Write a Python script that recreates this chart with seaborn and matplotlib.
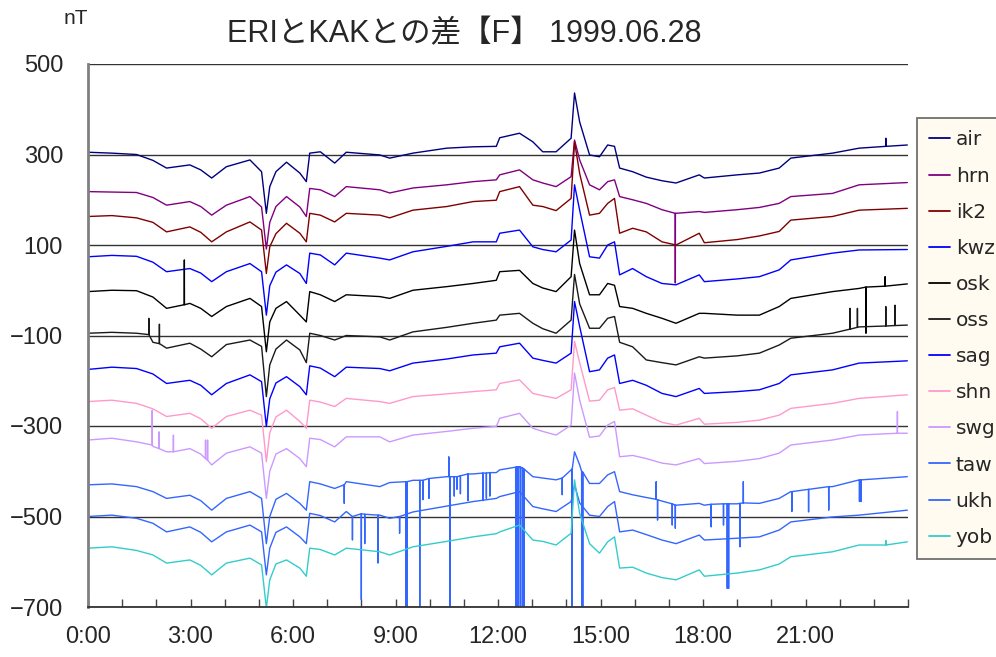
import matplotlib
matplotlib.use("Agg")
import matplotlib.pyplot as plt
from matplotlib.lines import Line2D
from matplotlib import font_manager
import pandas as pd
import seaborn as sns

# ---------------- data ----------------
HOURS = [0.0, 0.7, 1.42, 1.9, 2.3, 2.98, 3.3, 3.62, 4.05, 4.74, 5.08, 5.22, 5.32, 5.5,
         5.81, 6.2, 6.39, 6.49, 6.8, 7.22, 7.56, 8.54, 8.83, 9.51, 10.5, 11.27, 11.95,
         12.05, 12.63, 13.02, 13.31, 13.7, 14.14, 14.24, 14.39, 14.68, 14.97, 15.21,
         15.41, 15.56, 15.94, 16.34, 16.8, 17.21, 17.89, 18.04, 19.0, 19.65, 20.23,
         20.57, 21.79, 22.57, 23.98]

STATIONS = ["air", "hrn", "ik2", "kwz", "osk", "oss", "sag", "shn", "swg", "taw", "ukh", "yob"]
COLORS = ["#000080", "#800080", "#800000", "#0000FF", "#000000", "#1a1a1a",
          "#0000FF", "#FF99CC", "#CC99FF", "#3366FF", "#3366FF", "#33CCCC"]

air = [305, 303, 300, 287, 270, 277, 266, 248, 273, 288, 262, 170, 229, 262, 283, 259, 240,
       303, 306, 281, 305, 299, 292, 303, 314, 317, 318, 337, 347, 328, 306, 306, 336, 436,
       372, 299, 295, 321, 318, 270, 262, 250, 242, 237, 255, 248, 255, 259, 270, 292, 303,
       314, 321]
hrn = [218, 217, 216, 205, 188, 196, 185, 166, 188, 207, 184, 91, 150, 185, 207, 184, 163,
       225, 222, 207, 229, 222, 215, 226, 233, 240, 244, 255, 266, 244, 237, 229, 251, 332,
       288, 233, 222, 240, 244, 207, 200, 192, 178, 170, 174, 172, 178, 183, 192, 207, 214,
       233, 238]
ik2 = [163, 165, 160, 150, 129, 140, 128, 107, 129, 151, 133, 37, 96, 125, 148, 126, 107,
       170, 166, 151, 170, 166, 160, 177, 185, 196, 199, 218, 229, 188, 185, 176, 203, 328,
       258, 166, 170, 192, 203, 126, 137, 129, 107, 100, 126, 105, 112, 120, 130, 155, 163,
       177, 181]
kwz = [74, 77, 75, 62, 41, 48, 38, 19, 41, 59, 41, -55, 10, 40, 56, 37, 15, 82, 78, 56, 82,
       71, 67, 85, 97, 107, 107, 126, 133, 96, 90, 85, 111, 233, 177, 74, 71, 100, 107, 34,
       48, 30, 15, 12, 34, 19, 25, 30, 45, 67, 82, 89, 90]
osk = [-3, 0, -1, -15, -40, -29, -40, -58, -36, -18, -36, -136, -70, -40, -25, -55, -70, -3,
       -10, -25, -10, -14, -18, 0, 8, 15, 22, 41, 44, 15, 5, -3, 30, 133, 59, -10, -10, 15,
       11, -36, -40, -51, -62, -73, -51, -51, -55, -55, -36, -18, -3, 4, 14]
oss = [-95, -93, -95, -115, -128, -117, -130, -147, -120, -110, -124, -235, -165, -130, -110,
       -132, -160, -95, -100, -110, -100, -103, -110, -92, -82, -73, -66, -55, -51, -73, -85,
       -95, -66, 35, -30, -84, -84, -62, -58, -115, -125, -154, -160, -165, -147, -150, -145,
       -139, -121, -106, -95, -81, -77]
sag = [-175, -170, -173, -185, -206, -199, -210, -231, -206, -187, -202, -301, -240, -205,
       -191, -213, -231, -167, -172, -191, -170, -173, -178, -161, -152, -143, -139, -125,
       -117, -150, -155, -161, -139, -25, -80, -180, -176, -150, -143, -206, -199, -210, -228,
       -235, -217, -228, -224, -220, -206, -187, -176, -161, -156]
shn = [-246, -243, -250, -262, -279, -272, -284, -305, -279, -265, -276, -379, -315, -280,
       -265, -290, -305, -243, -247, -257, -239, -246, -250, -235, -229, -224, -220, -206,
       -198, -228, -233, -239, -220, -113, -160, -245, -243, -220, -215, -265, -262, -276,
       -292, -298, -283, -296, -292, -287, -276, -261, -250, -239, -231]
swg = [-331, -327, -335, -345, -357, -350, -362, -386, -360, -346, -360, -460, -400, -362,
       -350, -372, -390, -327, -330, -346, -324, -324, -335, -320, -312, -305, -301, -283,
       -272, -305, -312, -320, -298, -183, -243, -325, -322, -298, -290, -368, -365, -372,
       -382, -386, -372, -383, -378, -372, -360, -342, -331, -320, -316]
taw = [-430, -428, -434, -445, -460, -453, -465, -486, -460, -445, -460, -560, -500, -462,
       -449, -471, -486, -423, -428, -438, -423, -434, -425, -420, -412, -406, -403, -397,
       -390, -412, -415, -419, -397, -357, -386, -427, -427, -408, -401, -445, -452, -458,
       -466, -475, -471, -475, -472, -471, -460, -445, -434, -419, -412]
ukh = [-500, -497, -504, -515, -534, -523, -535, -556, -534, -519, -534, -629, -570, -535,
       -523, -545, -560, -493, -498, -512, -489, -497, -504, -490, -477, -467, -460, -456,
       -445, -478, -483, -489, -467, -430, -470, -497, -500, -478, -467, -534, -530, -540,
       -552, -560, -541, -552, -548, -545, -530, -512, -501, -497, -486]
yob = [-570, -567, -575, -585, -603, -596, -608, -629, -603, -592, -607, -702, -640, -605,
       -596, -614, -632, -570, -573, -585, -570, -578, -585, -567, -555, -545, -538, -534,
       -519, -552, -555, -563, -537, -419, -493, -560, -581, -556, -545, -614, -612, -625,
       -635, -640, -618, -632, -625, -618, -605, -589, -578, -563, -556]

# one-minute spikes: (hour, level of the trace, tip of the spike)
air_spikes = [(23.35, 318, 336)]
hrn_spikes = [(17.19, 170, 16)]
ik2_spikes = []
kwz_spikes = []
osk_spikes = [(2.82, -32, 67), (22.77, 7, -95), (23.33, 9, 30)]
oss_spikes = [(1.78, -98, -62), (2.09, -118, -75), (22.30, -86, -40), (22.52, -82, -40),
              (23.35, -79, -36), (23.62, -78, -33)]
sag_spikes = []
shn_spikes = []
swg_spikes = [(1.88, -342, -265), (2.08, -350, -313), (2.50, -357, -320), (3.44, -372, -331),
              (3.50, -376, -331), (23.69, -316, -268)]
taw_spikes = [(7.50, -430, -471), (9.31, -423, -700), (9.34, -423, -700), (9.71, -420, -700),
              (9.80, -420, -463), (9.98, -416, -460), (10.56, -412, -368), (10.59, -412, -700),
              (10.72, -412, -455), (10.80, -412, -440), (10.90, -410, -450), (11.12, -406, -465),
              (11.56, -404, -465), (11.66, -404, -460), (11.76, -403, -455), (12.52, -391, -700),
              (12.56, -390, -700), (12.60, -390, -700), (12.66, -391, -700), (12.72, -393, -700),
              (12.76, -395, -700), (13.88, -415, -452), (14.17, -395, -700), (14.45, -400, -700),
              (14.48, -402, -700), (16.63, -462, -423), (16.67, -463, -508), (17.10, -472, -519),
              (17.19, -475, -526), (18.24, -473, -523), (18.60, -472, -519), (18.71, -472, -659),
              (18.75, -472, -659), (19.08, -471, -567), (19.18, -470, -423), (20.60, -445, -489),
              (21.09, -440, -490), (21.68, -434, -486), (22.58, -419, -467), (22.63, -419, -467)]
ukh_spikes = [(7.74, -500, -552), (8.00, -494, -684), (8.10, -495, -560), (8.49, -497, -603),
              (9.12, -500, -537)]
yob_spikes = [(23.35, -563, -553)]

SERIES = [air, hrn, ik2, kwz, osk, oss, sag, shn, swg, taw, ukh, yob]
SPIKES = [air_spikes, hrn_spikes, ik2_spikes, kwz_spikes, osk_spikes, oss_spikes,
          sag_spikes, shn_spikes, swg_spikes, taw_spikes, ukh_spikes, yob_spikes]

Y_TICKS = [-700, -500, -300, -100, 100, 300, 500]
X_TICK_LABELS = ["0:00", "3:00", "6:00", "9:00", "12:00", "15:00", "18:00", "21:00"]
TITLE = "ERIとKAKとの差【F】 1999.06.28"
UNIT = "nT"

# ---------------- build long table ----------------
rows = []
for name, vals, spikes in zip(STATIONS, SERIES, SPIKES):
    assert len(vals) == len(HOURS), name
    for t, v in zip(HOURS, vals):
        rows.append((name, t, v))
    for t, base, tip in spikes:
        rows.append((name, t - 0.003, base))
        rows.append((name, t, tip))
        rows.append((name, t + 0.003, base))
df = pd.DataFrame(rows, columns=["station", "hour", "nT"])

# ---------------- style ----------------
sns.set_style("white")
names = {f.name for f in font_manager.fontManager.ttflist}
NARROW = "Liberation Sans Narrow" if "Liberation Sans Narrow" in names else "Liberation Sans"
plt.rcParams["font.family"] = [NARROW, "DejaVu Sans"]
plt.rcParams["axes.unicode_minus"] = True

fig = plt.figure(figsize=(9.96, 6.57), dpi=100)
ax = fig.add_axes([88 / 996, 1 - 607 / 657, 820 / 996, 543 / 657])

palette = dict(zip(STATIONS, COLORS))
sns.lineplot(data=df, x="hour", y="nT", hue="station", hue_order=STATIONS,
             palette=palette, estimator=None, sort=True, lw=1.0, legend=False, ax=ax)

ax.set_xlim(0, 24)
ax.set_ylim(-700, 500)
ax.set_xlabel("")
ax.set_ylabel("")

xt = list(range(25))
ax.set_xticks(xt)
xl = []
for h in xt:
    xl.append(X_TICK_LABELS[h // 3] if (h % 3 == 0 and h < 24) else "")
ax.set_xticklabels(xl)
ax.set_yticks(Y_TICKS)
ax.set_yticklabels([str(v).replace("-", "\u2212") for v in Y_TICKS])

ax.yaxis.grid(True, color="#333333", lw=1.0)
ax.xaxis.grid(False)
ax.set_axisbelow(True)

for s in ["top", "right"]:
    ax.spines[s].set_visible(False)
ax.spines["left"].set_color("#808080")
ax.spines["left"].set_linewidth(2.0)
ax.spines["bottom"].set_color("#333333")
ax.spines["bottom"].set_linewidth(1.3)

ax.tick_params(axis="x", direction="in", length=6, width=1, color="#444444",
               pad=14, labelsize=17, bottom=True)
ax.tick_params(axis="y", length=0, pad=18, labelsize=17, left=True)

fig.text(464 / 996, 1 - 34 / 657, TITLE, ha="center", va="center", fontsize=22,
         family=[NARROW, "Noto Sans CJK JP"])
fig.text(76 / 996, 1 - 18 / 657, UNIT, ha="center", va="center", fontsize=15)

handles = [Line2D([0], [0], color=c, lw=1.3) for c in COLORS]
leg = ax.legend(handles, STATIONS, loc="upper left",
                bbox_to_anchor=(917 / 996, 1 - 118 / 657), bbox_transform=fig.transFigure,
                frameon=True, fancybox=False, framealpha=1, facecolor="#FFFBF0",
                edgecolor="#707070", borderaxespad=0, borderpad=0.62, handlelength=1.0,
                handletextpad=0.3, labelspacing=0.85,
                prop={"family": "DejaVu Sans", "size": 14.5})
leg.get_frame().set_linewidth(1.3)

fig.savefig("out.png", dpi=100)
